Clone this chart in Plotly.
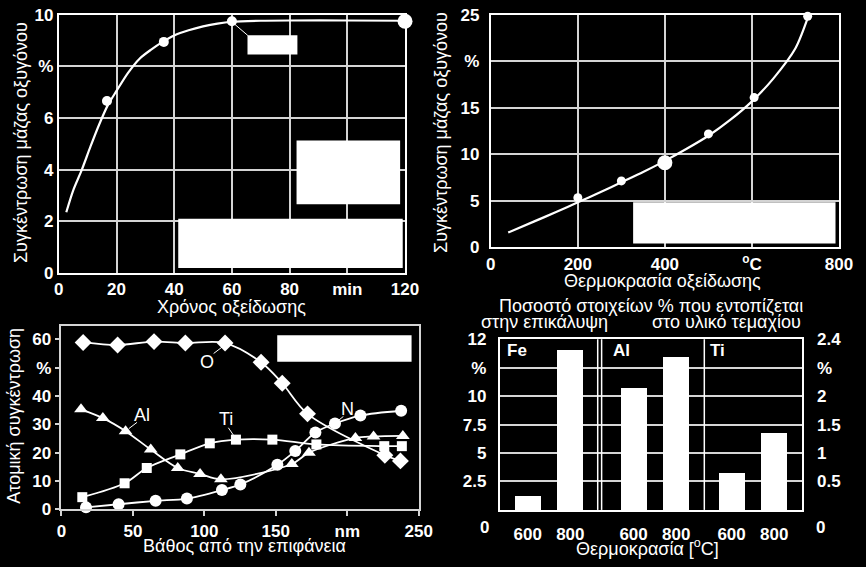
import plotly.graph_objects as go

W, H = 866, 567
FONT = "Liberation Sans"
WHITE = "#ffffff"
GRID = "#d4d4d4"

# ---------------- data ----------------
# Top-left: oxygen mass concentration vs oxidation time
tl_curve_x = [2.6, 5, 8, 11, 14, 17, 20, 24, 28, 32, 36, 40, 45, 50, 55, 60, 70, 80, 100, 120]
tl_curve_y = [2.35, 3.2, 4.0, 4.9, 5.75, 6.5, 7.05, 7.75, 8.3, 8.65, 8.95, 9.2, 9.4, 9.55, 9.66, 9.73, 9.77, 9.78, 9.78, 9.77]
tl_pts_x = [16.7, 36.4, 60]
tl_pts_y = [6.66, 8.95, 9.75]
tl_big_x = [120]
tl_big_y = [9.75]
tl_xticks = [0, 20, 40, 60, 80, 100, 120]
tl_xtext = ["0", "20", "40", "60", "80", "min", "120"]
tl_yticks = [0, 2, 4, 6, 8, 10]
tl_ytext = ["0", "2", "4", "6", "%", "10"]

# Top-right: oxygen mass concentration vs oxidation temperature
tr_curve_x = [40, 100, 150, 200, 250, 300, 350, 400, 450, 500, 550, 600, 650, 700, 730]
tr_curve_y = [1.6, 2.8, 3.8, 4.85, 5.9, 7.0, 8.1, 9.3, 10.6, 12.0, 13.7, 15.7, 18.2, 21.4, 24.9]
tr_pts_x = [200, 300, 500, 605, 728]
tr_pts_y = [5.35, 7.15, 12.2, 16.1, 24.85]
tr_big_x = [400]
tr_big_y = [9.1]
tr_xticks = [0, 200, 400, 600, 800]
tr_xtext = ["0", "200", "400", "<sup>o</sup>C", "800"]
tr_yticks = [0, 5, 10, 15, 20, 25]
tr_ytext = ["0", "5", "10", "15", "%", "25"]

# Bottom-left: atomic concentration vs depth
O_x = [15.2, 39.3, 64.8, 86.7, 114.5, 139.7, 154.5, 172.2, 226.3, 237.2]
O_y = [58.9, 58.0, 59.2, 58.7, 58.7, 51.9, 44.5, 33.7, 19.1, 17.1]
N_x = [17.2, 40.0, 65.9, 87.8, 112.3, 125.2, 151.1, 163.6, 177.7, 191.4, 209.2, 237.7]
N_y = [0.7, 1.8, 3.0, 3.8, 6.8, 8.8, 15.7, 20.6, 27.1, 30.3, 33.1, 34.8]
Al_x = [13.7, 29.0, 44.9, 62.5, 81.4, 97.0, 111.6, 161.2, 173.2, 205.7, 218.4, 238.9]
Al_y = [35.3, 32.2, 27.6, 21.1, 14.6, 12.5, 10.6, 16.0, 20.0, 25.2, 25.7, 25.9]
Ti_x = [14.6, 44.2, 59.7, 83.2, 103.8, 122.1, 147.6, 178.4, 225.9, 238.2]
Ti_y = [4.3, 9.2, 14.6, 19.4, 23.3, 24.6, 24.6, 22.9, 22.3, 22.3]
bl_xticks = [0, 50, 100, 150, 200, 250]
bl_xtext = ["0", "50", "100", "150", "nm", "250"]
bl_yticks = [0, 10, 20, 30, 40, 50, 60]
bl_ytext = ["0", "10", "20", "30", "40", "%", "60"]

# Bottom-right: element share at 600 / 800 °C
elements = ["Fe", "Al", "Ti"]
temps = ["600", "800"]
bar_vals = {"Fe": [1.2, 14.0], "Al": [10.7, 13.4], "Ti": [3.2, 6.7]}
br_yticks = [2.5, 5, 7.5, 10, 12.5, 15]
br_ytext_left = ["2.5", "5", "7.5", "10", "%", "12"]
br_ytext_right = ["0.5", "1", "1.5", "2", "%", "2.4"]

# ---------------- helpers ----------------
def px(x):
    return x / W

def py(y):
    return 1 - y / H

tickfont = dict(family=FONT, size=17, color=WHITE, weight="bold")
titlefont = dict(family=FONT, size=18, color=WHITE)

fig = go.Figure()

# ---- Top-left traces ----
fig.add_trace(go.Scatter(x=tl_curve_x, y=tl_curve_y, mode="lines", line=dict(color=WHITE, width=2.2, shape="spline", smoothing=0.8),
                         xaxis="x", yaxis="y", hoverinfo="skip"))
fig.add_trace(go.Scatter(x=tl_pts_x, y=tl_pts_y, mode="markers", marker=dict(color=WHITE, size=10),
                         xaxis="x", yaxis="y"))
fig.add_trace(go.Scatter(x=tl_big_x, y=tl_big_y, mode="markers", marker=dict(color=WHITE, size=15),
                         xaxis="x", yaxis="y", cliponaxis=False))

# ---- Top-right traces ----
fig.add_trace(go.Scatter(x=tr_curve_x, y=tr_curve_y, mode="lines", line=dict(color=WHITE, width=2.2, shape="spline", smoothing=0.8),
                         xaxis="x2", yaxis="y2", hoverinfo="skip"))
fig.add_trace(go.Scatter(x=tr_pts_x, y=tr_pts_y, mode="markers", marker=dict(color=WHITE, size=9),
                         xaxis="x2", yaxis="y2", cliponaxis=False))
fig.add_trace(go.Scatter(x=tr_big_x, y=tr_big_y, mode="markers", marker=dict(color=WHITE, size=15),
                         xaxis="x2", yaxis="y2"))

# ---- Bottom-left traces ----
series = [(O_x, O_y, "diamond", 13), (N_x, N_y, "circle", 12), (Al_x, Al_y, "triangle-up", 12), (Ti_x, Ti_y, "square", 10)]
for sx, sy, sym, sz in series:
    fig.add_trace(go.Scatter(x=sx, y=sy, mode="lines+markers",
                             line=dict(color=WHITE, width=1.8, shape="spline", smoothing=0.9),
                             marker=dict(color=WHITE, size=sz, symbol=sym),
                             xaxis="x3", yaxis="y3", cliponaxis=False))

# ---- Bottom-right bars ----
group_center = {"Fe": 50.2, "Al": 158.5, "Ti": 258.7}
half_gap = 21.8
br_tickvals, br_ticktext = [], []
for el in elements:
    xs = [group_center[el] - half_gap, group_center[el] + half_gap]
    br_tickvals += xs
    br_ticktext += temps
    fig.add_trace(go.Bar(x=xs, y=bar_vals[el], width=26.7, marker=dict(color=WHITE, line=dict(width=0)),
                         xaxis="x4", yaxis="y4"))
# invisible trace to activate right axis
fig.add_trace(go.Scatter(x=[0], y=[0], mode="markers", marker=dict(opacity=0), xaxis="x4", yaxis="y5", hoverinfo="skip"))

# ---------------- layout ----------------
def frame_axis(**kw):
    d = dict(showline=True, linecolor=WHITE, linewidth=2, mirror=True, showgrid=True, gridcolor=GRID, gridwidth=1.5,
             zeroline=False, ticks="", tickfont=tickfont, fixedrange=True)
    d.update(kw)
    return d

layout = dict(
    width=W, height=H, margin=dict(l=0, r=0, t=0, b=0),
    paper_bgcolor="black", plot_bgcolor="black", showlegend=False,
    bargap=0,
    xaxis=frame_axis(domain=[px(55), px(409)], anchor="y", range=[0, 120], tickvals=tl_xticks, ticktext=tl_xtext),
    yaxis=frame_axis(domain=[py(273), py(6)], anchor="x", range=[0, 10], tickvals=tl_yticks, ticktext=tl_ytext),
    xaxis2=frame_axis(domain=[px(496.7), px(852.7)], anchor="y2", range=[0, 800], tickvals=tr_xticks, ticktext=tr_xtext,
                      ticklabelstandoff=0),
    yaxis2=frame_axis(domain=[py(246.7), py(6)], anchor="x2", range=[0, 25], tickvals=tr_yticks, ticktext=tr_ytext,
                      ticklabelstandoff=6),
    xaxis3=dict(domain=[px(57.7), px(423)], anchor="y3", range=[0, 250], tickvals=bl_xticks, ticktext=bl_xtext,
                showline=True, linecolor=GRID, linewidth=1.5, mirror=True, showgrid=False, zeroline=False,
                ticks="outside", ticklen=5, tickwidth=1.5, tickcolor=GRID, tickfont=tickfont, fixedrange=True),
    yaxis3=dict(domain=[py(517.7), py(327.7)], anchor="x3", range=[0, 64.8], tickvals=bl_yticks, ticktext=bl_ytext,
                showline=True, linecolor=GRID, linewidth=1.5, mirror=True, showgrid=False, zeroline=False,
                ticks="outside", ticklen=5, tickwidth=1.5, tickcolor=GRID, tickfont=tickfont, fixedrange=True),
    xaxis4=dict(domain=[px(506), px(815)], anchor="y4", range=[0, 309], tickvals=br_tickvals, ticktext=br_ticktext,
                showline=True, linecolor=WHITE, linewidth=2, mirror=True, showgrid=False, zeroline=False,
                ticks="", tickfont=tickfont, ticklabelstandoff=8, fixedrange=True),
    yaxis4=dict(domain=[py(518.3), py(341.7)], anchor="x4", range=[0, 15], tickvals=br_yticks, ticktext=br_ytext_left,
                showline=True, linecolor=WHITE, linewidth=2, mirror=True, showgrid=True, gridcolor=GRID, gridwidth=1.5,
                zeroline=False, ticks="", tickfont=tickfont, ticklabelstandoff=8, fixedrange=True),
    yaxis5=dict(overlaying="y4", side="right", anchor="x4", range=[0, 3], tickvals=[v / 5 for v in br_yticks],
                ticktext=br_ytext_right, showline=False, showgrid=False, zeroline=False, ticks="",
                tickfont=tickfont, ticklabelstandoff=14, fixedrange=True),
)

shapes = []
# redaction boxes (white rectangles)
def box(xr, yr, x0, x1, y0, y1):
    shapes.append(dict(type="rect", xref=xr, yref=yr, x0=x0, x1=x1, y0=y0, y1=y1,
                       fillcolor=WHITE, line=dict(width=0), layer="above"))

box("x", "y", 65.4, 82.7, 8.46, 9.21)
box("x", "y", 82.4, 118.3, 2.66, 5.13)
box("x", "y", 41.4, 119.2, 0.19, 2.1)
box("x2", "y2", 327, 792, 0.42, 4.85)
box("x3", "y3", 151, 245, 52.1, 61.4)

# leader lines
def line(xr, yr, x0, y0, x1, y1, w=1):
    shapes.append(dict(type="line", xref=xr, yref=yr, x0=x0, y0=y0, x1=x1, y1=y1,
                       line=dict(color=WHITE, width=w), layer="above"))

line("x", "y", 60.5, 9.68, 65.5, 9.2)
line("x3", "y3", 106.5, 55.0, 113.3, 57.6)
line("x3", "y3", 52.9, 30.7, 47.2, 28.5)
line("x3", "y3", 116.8, 28.8, 121.4, 25.4)
line("x3", "y3", 197.3, 32.8, 193.2, 31.1)

# bottom-right separators
for xs in (100, 104, 209):
    shapes.append(dict(type="line", xref="x4", yref="y4 domain", x0=xs, x1=xs, y0=0, y1=1,
                       line=dict(color=WHITE, width=1.5), layer="above"))

annotations = []
def ann(text, x, y, font=titlefont, angle=0, xref="paper", yref="paper", xanchor="center"):
    annotations.append(dict(text=text, x=x, y=y, xref=xref, yref=yref, showarrow=False, font=font,
                            textangle=angle, xanchor=xanchor, yanchor="middle"))

# axis titles
ann("Συγκέντρωση μάζας οξυγόνου", px(17), py(138), angle=-90)
ann("Χρόνος οξείδωσης", px(232), py(308))
ann("Συγκέντρωση μάζας οξυγόνου", px(445), py(128), angle=-90)
ann("Θερμοκρασία οξείδωσης", px(672), py(281))
ann("Ατομική συγκέντρωση", px(9), py(421), angle=-90)
ann("Βάθος από την επιφάνεια", px(245), py(556))
ann("Ποσοστό στοιχείων % που εντοπίζεται", px(660), py(307))
ann("στην επικάλυψη", px(551.5), py(324))
ann("στο υλικό τεμαχίου", px(738), py(324))
ann("Θερμοκρασία [<sup>o</sup>C]", px(657), py(557))
# bottom-right zero labels
ann("0", px(490.5), py(536), font=tickfont)
ann("0", px(834), py(536), font=tickfont)
# element labels in bar panel
for el, xpix in zip(elements, [511.7, 620, 718.3]):
    ann(el, px(xpix), py(353.3), font=tickfont, xanchor="left")
# series labels in depth profile
lblfont = dict(family=FONT, size=18, color=WHITE)
for t, lx, ly in [("O", 102, 52.1), ("Al", 56.3, 33.3), ("Ti", 115.2, 31.9), ("N", 200, 35.3)]:
    ann(t, lx, ly, font=lblfont, xref="x3", yref="y3")

layout["shapes"] = shapes
layout["annotations"] = annotations
fig.update_layout(**layout)
fig.write_html("out.html")
